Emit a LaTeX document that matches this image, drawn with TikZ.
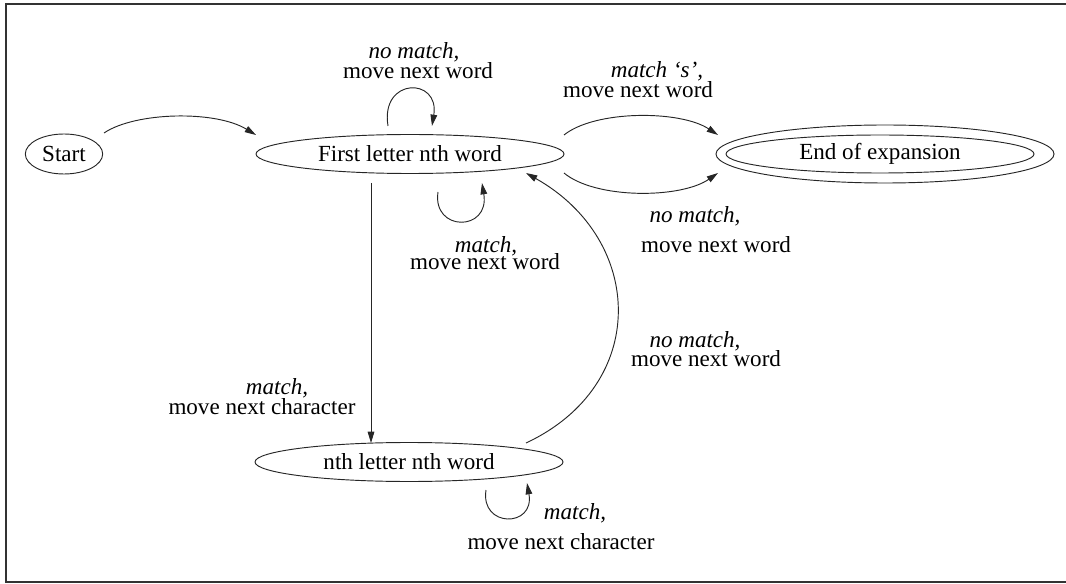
\documentclass[tikz,border=0pt]{standalone}
\usepackage{fontspec}
\setmainfont{Liberation Serif}
\usetikzlibrary{arrows.meta,calc,shapes.geometric}
\newcommand\dgfont{\fontsize{17.3}{20}\selectfont}
\begin{document}
\begin{tikzpicture}[x=0.75pt,y=-0.75pt,
  state/.style={ellipse,draw=black!85,line width=0.7pt,inner sep=0pt,font=\dgfont},
  edge/.style={draw=black!85,line width=0.7pt,-{Triangle[length=8.5pt,width=5pt]}},
  lab/.style={inner sep=0pt,font=\dgfont},
  itlab/.style={inner sep=0pt,font=\dgfont\itshape}]
\useasboundingbox (0,0) rectangle (1066,584);
% frame
\draw[line width=1.3pt,black!80] (1066,4) -- (6,4) -- (6,582) -- (1066,582);

% states
\node[state,minimum width=58pt,minimum height=30pt] (start) at (64,154) {Start};
\node[state,minimum width=231pt,minimum height=29.25pt] (first) at (410,154) {First letter nth word};
\node[state,minimum width=231pt,minimum height=28.5pt] (endi) at (880,154) {End of expansion};
\node[state,minimum width=253.5pt,minimum height=43.5pt] (endo) at (885,154) {};
\node[state,minimum width=231pt,minimum height=29.25pt] (nth) at (409,462) {nth letter nth word};

% transitions
\draw[edge] ($(start)+(40,-21)$) .. controls ($(start)+(71,-42)$) and ($(first)+(-195,-44)$) .. ($(first)+(-154,-19)$);
\draw[edge] ($(first)+(-22,-28)$) .. controls ($(first)+(-30,-77)$) and ($(first)+(30,-77)$) .. ($(first)+(22,-28)$);
\draw[edge] ($(first)+(28,38)$) .. controls ($(first)+(22,78)$) and ($(first)+(80,78)$) .. ($(first)+(72,29)$);
\draw[edge] ($(first)+(154,-19)$) .. controls ($(first)+(185,-44)$) and ($(endo)+(-205,-44)$) .. ($(endo)+(-167,-19)$);
\draw[edge] ($(first)+(154,19)$) .. controls ($(first)+(185,45)$) and ($(endo)+(-205,45)$) .. ($(endo)+(-167,19)$);
\draw[edge] ($(first)+(-39,29)$) -- ($(nth)+(-38,-19)$);
\draw[edge] ($(nth)+(117,-19)$) .. controls ($(nth)+(241,-77)$) and ($(first)+(235,86)$) .. ($(first)+(116,19)$);
\draw[edge] ($(nth)+(77,28)$) .. controls ($(nth)+(71,66)$) and ($(nth)+(126,66)$) .. ($(nth)+(118,21)$);

% transition labels
\node[itlab] (l1a) at (414,52) {no match,};
\node[lab] (l1b) at (418,71) {move next word};
\node[itlab] (l2a) at (486,246) {match,};
\node[lab] (l2b) at (485,262) {move next word};
\node[itlab] (l3a) at (657,71) {match ‘s’,};
\node[lab] (l3b) at (638,90) {move next word};
\node[itlab] (l4a) at (695,216) {no match,};
\node[lab] (l4b) at (716,245) {move next word};
\node[itlab] (l5a) at (695,341) {no match,};
\node[lab] (l5b) at (706,359) {move next word};
\node[itlab] (l6a) at (277,388) {match,};
\node[lab] (l6b) at (262,407) {move next character};
\node[itlab] (l7a) at (575,513) {match,};
\node[lab] (l7b) at (561,542) {move next character};
\end{tikzpicture}
\end{document}
